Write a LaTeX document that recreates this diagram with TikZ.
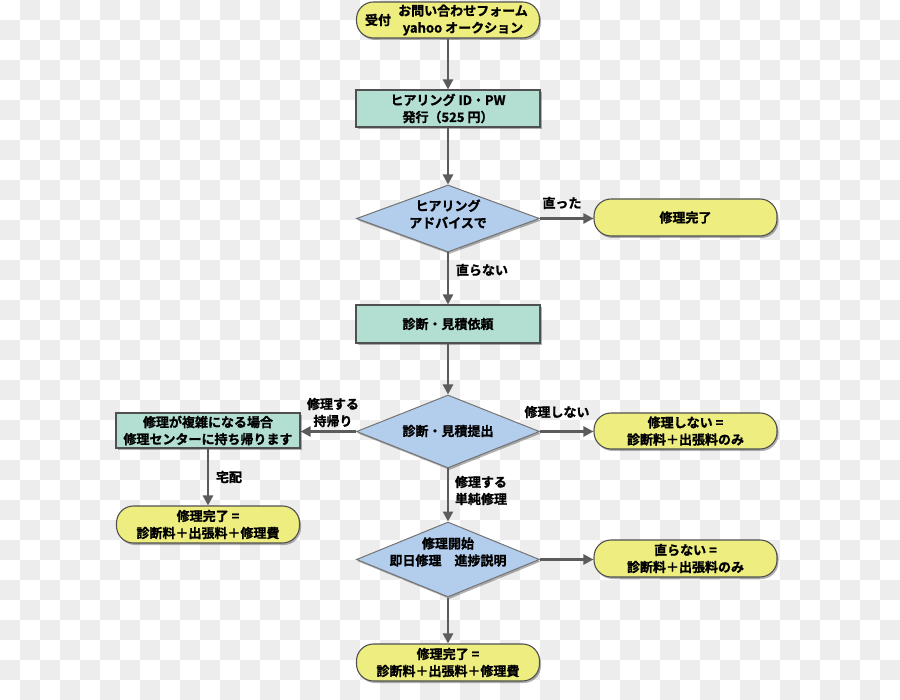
\documentclass[tikz,border=0pt]{standalone}
\usepackage{fontspec}
\setmainfont{Noto Sans CJK JP}[BoldFont={Noto Sans CJK JP Bold},BoldFeatures={FakeBold=1.2}]
\usetikzlibrary{shapes.geometric,arrows.meta,shadows}
\definecolor{termY}{HTML}{EDED80}
\definecolor{boxG}{HTML}{B3DFD2}
\definecolor{dmdB}{HTML}{B3CDEC}
\definecolor{edgeC}{HTML}{505050}
\definecolor{arrC}{HTML}{5C5C5C}
\definecolor{chk}{HTML}{EDEDED}
\begin{document}
\begin{tikzpicture}[x=1pt,y=-1pt,
  font=\fontsize{13}{17}\selectfont\bfseries,
  shd/.style={drop shadow={shadow xshift=1.5pt,shadow yshift=-2pt,fill=black,opacity=0.3}},
  term/.style={rectangle, rounded corners=17pt, draw=edgeC, line width=1.1pt, fill=termY,
    minimum width=183pt, minimum height=37pt, align=center, inner sep=0pt, shd},
  proc/.style={rectangle, draw=edgeC, line width=1.1pt, fill=boxG,
    minimum width=184pt, minimum height=37pt, align=center, inner sep=0pt, shd},
  dec/.style={diamond, draw=edgeC!80, line width=1pt, fill=dmdB,
    minimum width=183pt, inner sep=0pt, shd},
  flow/.style={draw=arrC, line width=2.6pt, -{Triangle[length=10pt,width=10pt]}},
  lbl/.style={align=center, inner sep=0pt}
]
\useasboundingbox (0,0) rectangle (900,700);
% checkerboard background
\foreach \j in {0,2,...,34} \foreach \i in {1,3,...,43} \fill[chk] (20*\i,20*\j) rectangle ++(20,20);
\foreach \j in {1,3,...,33} \foreach \i in {0,2,...,44} \fill[chk] (20*\i,20*\j) rectangle ++(20,20);

% nodes
\node[term, minimum height=36pt] (t0) at (448,20) {};
\node[lbl] (t0a) at (378,20) {受付};
\node[lbl] (t0b) at (463,20) {お問い合わせフォーム\\yahoo オークション};

\node[proc] (b1) at (448,108.5) {ヒアリング ID・PW\\発行（525 円）};

\node[dec, minimum height=67pt] (d1) at (448,218.5) {};
\node[lbl] (d1t) at (448,214) {ヒアリング\\アドバイスで};

\node[term] (t1) at (685.5,217.5) {修理完了};

\node[proc, minimum height=38pt] (b2) at (448,324) {診断・見積依頼};

\node[dec, minimum height=73pt] (d2) at (448,431.5) {};
\node[lbl] (d2t) at (448,431) {診断・見積提出};

\node[term, minimum height=36pt] (t2) at (685.5,431) {修理しない =\\診断料＋出張料のみ};

\node[proc, minimum height=35pt] (b3) at (208,430.5) {修理が複雑になる場合\\修理センターに持ち帰ります};

\node[term] (t3) at (208,524.5) {修理完了 =\\診断料＋出張料＋修理費};

\node[dec, minimum height=75pt] (d3) at (448,559.5) {};
\node[lbl] (d3t) at (448,552) {修理開始\\即日修理　進捗説明};

\node[term] (t4) at (685.5,558.5) {直らない =\\診断料＋出張料のみ};

\node[term] (t5) at (448,662.5) {修理完了 =\\診断料＋出張料＋修理費};

% connectors
\draw[flow] (t0.south) -- (b1.north);
\draw[flow] (b1.south) -- (d1.north);
\draw[flow] (d1.east) -- (d1.east -| t1.west);
\draw[flow] (d1.south) -- (b2.north);
\draw[flow] (b2.south) -- (d2.north);
\draw[flow] (d2.east) -- (d2.east -| t2.west);
\draw[flow] (d2.west) -- (d2.west -| b3.east);
\draw[flow] (b3.south) -- (t3.north);
\draw[flow] (d2.south) -- (d3.north);
\draw[flow] (d3.east) -- (d3.east -| t4.west);
\draw[flow] (d3.south) -- (t5.north);

% connector labels
\node[lbl] (l1) at (562,203) {直った};
\node[lbl] (l2) at (482,270) {直らない};
\node[lbl] (l3) at (557,412) {修理しない};
\node[lbl] (l4) at (333,412.5) {修理する\\持帰り};
\node[lbl] (l5) at (229,477) {宅配};
\node[lbl] (l6) at (481,490.5) {修理する\\単純修理};
\end{tikzpicture}
\end{document}
